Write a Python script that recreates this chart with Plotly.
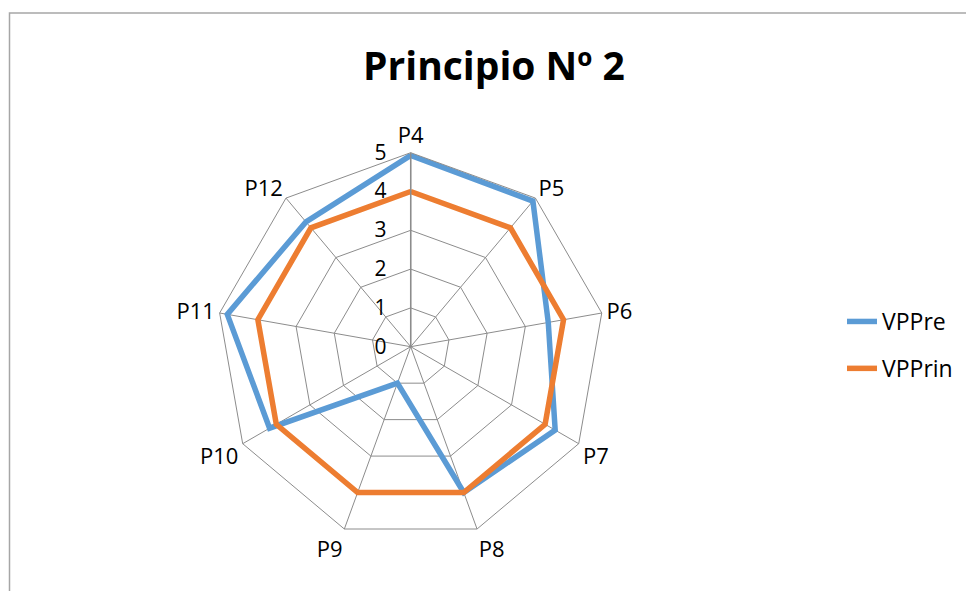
import plotly.graph_objects as go

categories = ["P4", "P5", "P6", "P7", "P8", "P9", "P10", "P11", "P12"]
vppre = [4.93, 4.9, 3.6, 4.3, 4.0, 1.0, 4.2, 4.8, 4.2]
vpprin = [4.0, 4.0, 4.0, 4.0, 4.0, 4.0, 4.0, 4.0, 4.0]
radial_ticks = [0, 1, 2, 3, 4, 5]

FONT = "Open Sans"

fig = go.Figure()
fig.add_trace(go.Scatterpolar(
    r=vppre + vppre[:1], theta=categories + categories[:1], mode="lines",
    name="VPPre", legendgroup="a", line=dict(color="#5B9BD5", width=5.5)))
fig.add_trace(go.Scatterpolar(
    r=vpprin + vpprin[:1], theta=categories + categories[:1], mode="lines",
    name="VPPrin", legendgroup="b", line=dict(color="#ED7D31", width=5.5)))

W, H = 966, 591
cx, cy, R = 410.7, 346.7, 194
fig.update_layout(
    width=W, height=H,
    margin=dict(l=0, r=0, t=0, b=0),
    paper_bgcolor="white",
    font=dict(family=FONT, color="black", size=20),
    title=dict(text="<b>Principio Nº 2</b>", x=494 / W, xanchor="center",
               y=1 - 66 / H, yanchor="middle",
               font=dict(family=FONT, size=39, color="black")),
    polar=dict(
        domain=dict(x=[(cx - R) / W, (cx + R) / W],
                    y=[1 - (cy + R) / H, 1 - (cy - R) / H]),
        gridshape="linear",
        bgcolor="white",
        angularaxis=dict(direction="clockwise", rotation=90,
                         categoryorder="array", categoryarray=categories,
                         showline=True, linecolor="#8c8c8c", linewidth=1,
                         gridcolor="#8c8c8c", gridwidth=1, ticks="",
                         tickfont=dict(size=22, family=FONT)),
        radialaxis=dict(range=[0, 5], tickvals=radial_ticks, angle=90,
                        side="counterclockwise", tickangle=90,
                        showline=True, linecolor="#8c8c8c", linewidth=1.5,
                        gridcolor="#8c8c8c", gridwidth=1,
                        ticks="outside", ticklen=16,
                        tickcolor="rgba(0,0,0,0)",
                        tickfont=dict(size=21, family=FONT)),
    ),
    legend=dict(x=842 / W, y=1 - 345 / H, xanchor="left", yanchor="middle",
                font=dict(size=23, family=FONT), itemwidth=30,
                traceorder="grouped", tracegroupgap=14,
                bgcolor="rgba(0,0,0,0)"),
    shapes=[dict(type="rect", xref="paper", yref="paper",
                 x0=9.5 / W, x1=1.05, y0=-0.05, y1=1 - 13 / H,
                 line=dict(color="#a6a6a6", width=1.5))],
)

fig.write_html("out.html", config={"displayModeBar": False},
               post_script="document.body.style.margin='0';document.body.style.padding='0';")
